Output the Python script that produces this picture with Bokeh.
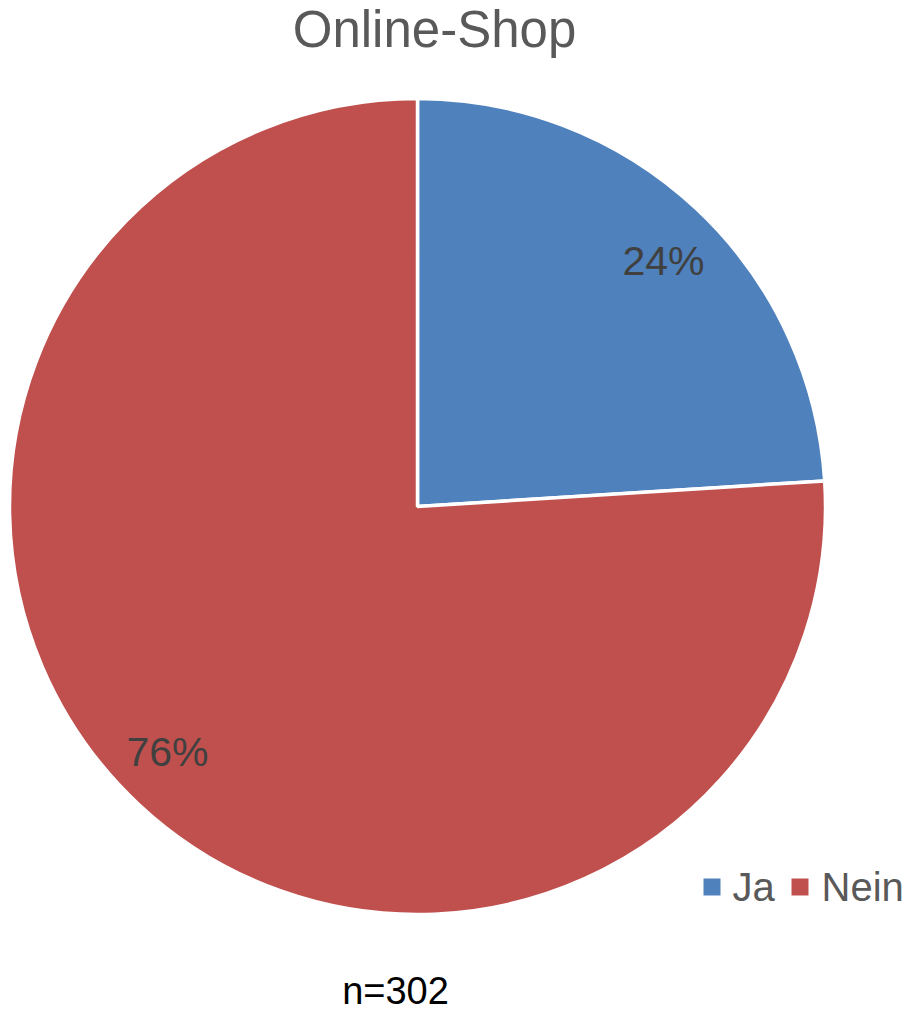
import math
from bokeh.plotting import figure
from bokeh.models import Range1d, ColumnDataSource
from bokeh.core.properties import value
from bokeh.embed import file_html
from bokeh.resources import INLINE

# ---- data ----
title_text = "Online-Shop"
categories = ["Ja", "Nein"]
values = [24, 76]          # percent
colors = ["#4F81BD", "#C0504D"]
n_text = "n=302"

W, H = 910, 1013
FONT = "Liberation Sans"

p = figure(width=W, height=H, output_backend="svg", toolbar_location=None,
           x_range=Range1d(0, W), y_range=Range1d(0, H),
           min_border=0, border_fill_color="white", background_fill_color="white")
p.axis.visible = False
p.xgrid.visible = False
p.ygrid.visible = False
p.outline_line_color = None

def Y(page_y):
    return H - page_y

cx, cy, r = 417, Y(506), 408

total = sum(values)
starts, ends, lx, ly, labels = [], [], [], [], []
cum = 0.0
for v in values:
    end = math.radians(90 - cum / total * 360)
    start = math.radians(90 - (cum + v) / total * 360)
    starts.append(start)
    ends.append(end)
    mid = (start + end) / 2 - math.radians(2.1)
    lx.append(cx + 0.855 * r * math.cos(mid) - 2)
    ly.append(cy + 0.855 * r * math.sin(mid))
    labels.append(f"{round(v / total * 100)}%")
    cum += v

src = ColumnDataSource(dict(start=starts, end=ends, color=colors,
                            lx=lx, ly=ly, label=labels, cat=categories))
p.wedge(x=cx, y=cy, radius=r, start_angle="start", end_angle="end",
        direction="anticlock", fill_color="color", line_color="white",
        line_width=3.5, source=src)

p.text(x="lx", y="ly", text="label", source=src, text_align="center",
       text_baseline="middle", text_font=value(FONT), text_font_size="41px",
       text_color="#404040")

# title
p.text(x=[434], y=[Y(29)], text=[title_text], text_align="center",
       text_baseline="middle", text_font=value(FONT), text_font_size="51px",
       text_color="#595959")

# n label
p.text(x=[395], y=[Y(990)], text=[n_text], text_align="center",
       text_baseline="middle", text_font=value(FONT), text_font_size="38px",
       text_color="#000000")

# legend
leg_x = [703, 791]
leg_text_x = [732, 821]
p.rect(x=[lx_ + 8.5 for lx_ in leg_x], y=[Y(886.5)] * 2, width=17, height=17,
       fill_color=colors, line_color=None)
p.text(x=leg_text_x, y=[Y(886)] * 2, text=categories, text_align="left",
       text_baseline="middle", text_font=value(FONT), text_font_size="40px",
       text_color="#595959")

open("out.html", "w").write(file_html(p, INLINE))
